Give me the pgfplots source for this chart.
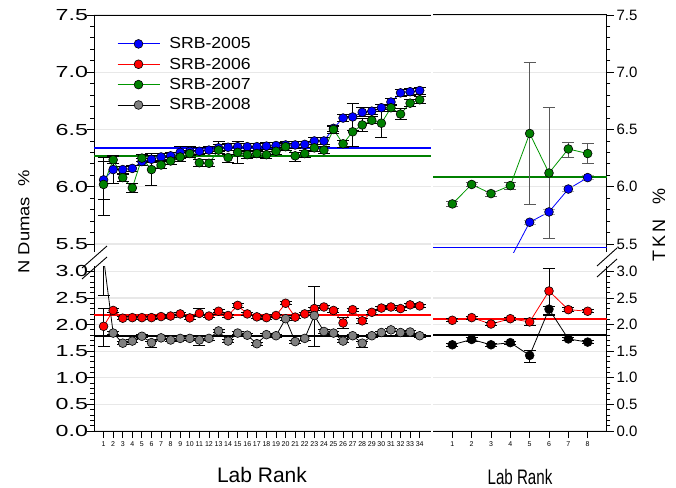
\documentclass[border=0pt]{standalone}
\usepackage{pgfplots}
\pgfplotsset{compat=1.18}
\usepackage{pgfplotstable}
\usepackage{fontspec}
\setmainfont{Liberation Sans}

\definecolor{srbblue}{RGB}{0,0,255}
\definecolor{srbred}{RGB}{255,0,0}
\definecolor{srbgreen}{RGB}{0,128,0}
\definecolor{srbgreenline}{RGB}{0,150,0}
\definecolor{srbgray}{RGB}{128,128,128}
\definecolor{gridgray}{RGB}{232,232,232}

% N Dumas, SRB-2005 (x = lab rank, y = mean, ep/em = error plus/minus)
\pgfplotstableread{
x y ep em
1 6.06 0.16 0.17
2 6.15 0.12 0.12
3 6.15 0.03 0.03
4 6.16 0.03 0.03
5 6.22 0.03 0.03
6 6.24 0.03 0.03
7 6.26 0.03 0.03
8 6.27 0.03 0.03
9 6.30 0.05 0.05
10 6.31 0.04 0.04
11 6.31 0.03 0.03
12 6.32 0.03 0.03
13 6.34 0.03 0.03
14 6.345 0.03 0.03
15 6.35 0.03 0.03
16 6.35 0.03 0.03
17 6.35 0.03 0.03
18 6.355 0.03 0.03
19 6.36 0.03 0.03
20 6.365 0.03 0.03
21 6.365 0.03 0.03
22 6.37 0.03 0.03
23 6.40 0.03 0.03
24 6.40 0.03 0.03
25 6.51 0.03 0.03
26 6.60 0.03 0.03
27 6.61 0.12 0.12
28 6.65 0.04 0.04
29 6.66 0.03 0.03
30 6.69 0.03 0.03
31 6.74 0.03 0.03
32 6.82 0.03 0.03
33 6.83 0.03 0.03
34 6.84 0.03 0.03
}\dumasA

% N Dumas, SRB-2007
\pgfplotstableread{
x y ep em
1 6.02 0.24 0.27
2 6.235 0.03 0.03
3 6.08 0.03 0.03
4 5.99 0.04 0.04
5 6.25 0.03 0.03
6 6.15 0.14 0.14
7 6.19 0.03 0.03
8 6.225 0.03 0.03
9 6.26 0.04 0.04
10 6.29 0.03 0.03
11 6.21 0.03 0.03
12 6.205 0.03 0.03
13 6.32 0.08 0.03
14 6.255 0.03 0.04
15 6.30 0.10 0.10
16 6.28 0.03 0.03
17 6.29 0.03 0.03
18 6.28 0.03 0.03
19 6.31 0.03 0.03
20 6.35 0.03 0.03
21 6.27 0.03 0.05
22 6.29 0.03 0.03
23 6.34 0.03 0.03
24 6.32 0.03 0.03
25 6.50 0.03 0.03
26 6.375 0.03 0.03
27 6.48 0.13 0.13
28 6.54 0.06 0.06
29 6.58 0.03 0.03
30 6.555 0.12 0.12
31 6.69 0.03 0.03
32 6.635 0.05 0.05
33 6.73 0.03 0.03
34 6.76 0.03 0.03
}\dumasC

% N Dumas, SRB-2006
\pgfplotstableread{
x y ep em
1 1.967 0.33 0.37
2 2.265 0.03 0.03
3 2.12 0.03 0.03
4 2.13 0.03 0.03
5 2.13 0.03 0.03
6 2.13 0.03 0.03
7 2.15 0.03 0.03
8 2.16 0.03 0.03
9 2.20 0.03 0.03
10 2.125 0.03 0.03
11 2.21 0.09 0.03
12 2.16 0.03 0.03
13 2.25 0.03 0.03
14 2.17 0.03 0.03
15 2.36 0.03 0.03
16 2.20 0.03 0.03
17 2.145 0.03 0.03
18 2.13 0.03 0.03
19 2.17 0.03 0.03
20 2.40 0.03 0.03
21 2.14 0.03 0.03
22 2.20 0.03 0.03
23 2.30 0.03 0.03
24 2.33 0.03 0.03
25 2.265 0.03 0.03
26 2.03 0.11 0.11
27 2.28 0.03 0.03
28 2.07 0.04 0.04
29 2.23 0.03 0.03
30 2.31 0.03 0.03
31 2.33 0.03 0.03
32 2.30 0.03 0.03
33 2.37 0.03 0.03
34 2.35 0.03 0.03
}\dumasB

% N Dumas, SRB-2008
\pgfplotstableread{
x y ep em
1 3.25 0.71 0.71
2 1.84 0.03 0.03
3 1.65 0.03 0.03
4 1.69 0.03 0.03
5 1.78 0.03 0.03
6 1.66 0.03 0.08
7 1.75 0.03 0.03
8 1.71 0.03 0.03
9 1.74 0.03 0.03
10 1.74 0.03 0.03
11 1.71 0.03 0.11
12 1.74 0.03 0.03
13 1.88 0.03 0.03
14 1.69 0.03 0.03
15 1.84 0.03 0.03
16 1.80 0.03 0.03
17 1.64 0.03 0.03
18 1.81 0.03 0.03
19 1.79 0.03 0.03
20 2.11 0.03 0.03
21 1.68 0.03 0.03
22 1.74 0.03 0.03
23 2.17 0.54 0.58
24 1.87 0.03 0.03
25 1.84 0.03 0.03
26 1.69 0.03 0.03
27 1.79 0.03 0.03
28 1.65 0.03 0.07
29 1.79 0.03 0.03
30 1.85 0.03 0.03
31 1.90 0.03 0.03
32 1.85 0.03 0.03
33 1.86 0.03 0.03
34 1.79 0.03 0.03
}\dumasD

% TKN, SRB-2005 (labs 1-3 lie below the plotted range)
\pgfplotstableread{
x y ep em
4 5.37 0.02 0.02
5 5.69 0.02 0.02
6 5.78 0.02 0.02
7 5.98 0.02 0.02
8 6.08 0.02 0.02
}\tknA

% TKN, SRB-2007
\pgfplotstableread{
x y ep em
1 5.85 0.02 0.02
2 6.02 0.02 0.02
3 5.94 0.02 0.02
4 6.01 0.03 0.03
5 6.465 0.62 0.62
6 6.12 0.57 0.57
7 6.33 0.06 0.07
8 6.29 0.09 0.09
}\tknC

% TKN, SRB-2006
\pgfplotstableread{
x y ep em
1 2.08 0.03 0.03
2 2.13 0.03 0.03
3 2.01 0.03 0.03
4 2.11 0.03 0.03
5 2.05 0.07 0.07
6 2.63 0.43 0.45
7 2.28 0.04 0.04
8 2.25 0.03 0.03
}\tknB

% TKN, SRB-2008
\pgfplotstableread{
x y ep em
1 1.62 0.03 0.03
2 1.72 0.03 0.03
3 1.62 0.03 0.03
4 1.66 0.03 0.03
5 1.42 0.10 0.14
6 2.29 0.06 0.10
7 1.73 0.03 0.03
8 1.67 0.03 0.03
}\tknD

\pgfplotsset{
  panel/.style={
    scale only axis,
    clip=true,
    tick align=outside,
    major tick length=7bp,
    minor tick length=3.5bp,
    tick style={black, line width=0.8bp},
    axis line style={black, line width=1bp},
    ymajorgrids,
    major grid style={gridgray, line width=1.3bp},
    minor y tick num=4,
    yticklabel style={font=\fontsize{16bp}{16bp}\selectfont,
      /pgf/number format/fixed, /pgf/number format/fixed zerofill,
      /pgf/number format/precision=1,
      /pgf/number format/assume math mode=true},
    xticklabel style={font=\fontsize{7bp}{7bp}\selectfont,
      /pgf/number format/assume math mode=true},
  },
  leftlabels/.style={
    yticklabel={\scalebox{1.45}[1]{\pgfmathprintnumber{\tick}}},
    yticklabel style={xshift=4.5bp},
  },
  rightlabels/.style={
    yticklabel style={font=\fontsize{15bp}{15bp}\selectfont, xshift=-1bp},
  },
  ser/.style 2 args={draw=#1, line width=0.8bp, mark=*, mark size=4.4bp,
    mark options={solid, fill=#2, draw=black, line width=0.6bp}},
  errs/.style={error bars/.cd, y dir=both, y explicit,
    error bar style={#1, line width=0.8bp, solid},
    error mark options={#1, rotate=90, line width=0.8bp, mark size=6bp}},
  meanline/.style={draw=#1, line width=1.6bp, forget plot},
}

\begin{document}
\begin{tikzpicture}
\path[use as bounding box] (0,0) rectangle (676bp,-488bp);

% ---------- N Dumas, upper range ----------
\begin{axis}[panel, leftlabels,
  at={(94bp,-15bp)}, anchor=north west,
  width=337bp, height=237bp,
  xmin=0, xmax=35.18, ymin=5.43, ymax=7.5,
  axis x line*=top, axis y line*=left,
  xtick=\empty,
  ytick={5.5,6.0,6.5,7.0,7.5},
  legend style={at={(axis description cs:0.068,0.912)}, anchor=north west,
    draw=none, fill=none, font=\fontsize{16bp}{16bp}\selectfont,
    row sep=4.7bp, inner sep=0pt, nodes={inner sep=1.5bp, anchor=west},
    /tikz/every odd column/.append style={column sep=8bp}},
  legend cell align=left,
  legend image code/.code={
    \draw[mark repeat=2, mark phase=2, #1] plot coordinates {(0bp,0bp) (21bp,0bp) (42bp,0bp)};},
]
\addplot[meanline=srbblue] coordinates {(0,6.34) (35.18,6.34)};
\addplot[meanline=srbgreen] coordinates {(0,6.27) (35.18,6.27)};
\addplot[ser={srbblue}{srbblue}, errs=black]
  table[x=x, y=y, y error plus=ep, y error minus=em] {\dumasA};
\addlegendentry{\scalebox{1.1}[1]{SRB-2005}}
\addlegendimage{ser={srbred}{srbred}}
\addlegendentry{\scalebox{1.1}[1]{SRB-2006}}
\addplot[ser={srbgreenline}{srbgreen}, errs=black]
  table[x=x, y=y, y error plus=ep, y error minus=em] {\dumasC};
\addlegendentry{\scalebox{1.1}[1]{SRB-2007}}
\addlegendimage{ser={black}{srbgray}}
\addlegendentry{\scalebox{1.1}[1]{SRB-2008}}
\end{axis}

% ---------- N Dumas, lower range ----------
\begin{axis}[panel, leftlabels,
  at={(94bp,-431bp)}, anchor=south west,
  width=337bp, height=165bp,
  xmin=0, xmax=35.18, ymin=0, ymax=3.1,
  axis x line*=bottom, axis y line*=left,
  xtick={1,...,34},
  ytick={0,0.5,...,3.0},
]
\addplot[meanline=srbred] coordinates {(0,2.18) (35.18,2.18)};
\addplot[meanline=black] coordinates {(0,1.78) (35.18,1.78)};
\addplot[ser={srbred}{srbred}, errs=black]
  table[x=x, y=y, y error plus=ep, y error minus=em] {\dumasB};
\addplot[ser={black}{srbgray}, errs=black]
  table[x=x, y=y, y error plus=ep, y error minus=em] {\dumasD};
\end{axis}

% ---------- TKN, upper range ----------
\begin{axis}[panel, rightlabels,
  at={(433bp,-15bp)}, anchor=north west,
  width=174bp, height=237bp,
  xmin=0, xmax=9, ymin=5.43, ymax=7.5,
  axis x line*=top, axis y line*=right,
  xtick=\empty,
  ytick={5.5,6.0,6.5,7.0,7.5},
]
\addplot[meanline=srbgreen] coordinates {(0,6.086) (9,6.086)};
\addplot[meanline=srbblue] coordinates {(0,5.47) (9,5.47)};
\addplot[ser={srbblue}{srbblue}, errs=black!35]
  table[x=x, y=y, y error plus=ep, y error minus=em] {\tknA};
\addplot[ser={srbgreenline}{srbgreen}, errs=black!65]
  table[x=x, y=y, y error plus=ep, y error minus=em] {\tknC};
\end{axis}

% ---------- TKN, lower range ----------
\begin{axis}[panel, rightlabels,
  at={(433bp,-431bp)}, anchor=south west,
  width=174bp, height=165bp,
  xmin=0, xmax=9, ymin=0, ymax=3.1,
  axis x line*=bottom, axis y line*=right,
  xtick={1,...,8},
  ytick={0,0.5,...,3.0},
]
\addplot[meanline=srbred] coordinates {(0,2.11) (9,2.11)};
\addplot[meanline=black] coordinates {(0,1.80) (9,1.80)};
\addplot[ser={srbred}{srbred}, errs=black]
  table[x=x, y=y, y error plus=ep, y error minus=em] {\tknB};
\addplot[ser={black}{black}, errs=black]
  table[x=x, y=y, y error plus=ep, y error minus=em] {\tknD};
\end{axis}

% axis-break marks
\draw[line width=0.9bp] (82bp,-268bp) -- (107bp,-246bp);
\draw[line width=0.9bp] (82bp,-279bp) -- (107bp,-257bp);
\draw[line width=0.9bp] (597bp,-266bp) -- (617bp,-248bp);
\draw[line width=0.9bp] (597bp,-277bp) -- (617bp,-259bp);

% axis titles
\node[rotate=90] at (24bp,-222bp)
  {\scalebox{1.15}[1]{\fontsize{16bp}{16bp}\selectfont N Dumas\hspace{0.55em}\%}};
\node[rotate=90, font=\fontsize{18bp}{18bp}\selectfont] at (659bp,-225bp) {T\,K\,N\ \ \ \%};
\node[anchor=base, font=\fontsize{21bp}{21bp}\selectfont] at (262bp,-482bp) {Lab Rank};
\node[anchor=base] at (520bp,-484bp) {\scalebox{0.72}[1]{\fontsize{21bp}{21bp}\selectfont Lab Rank}};
\end{tikzpicture}
\end{document}
